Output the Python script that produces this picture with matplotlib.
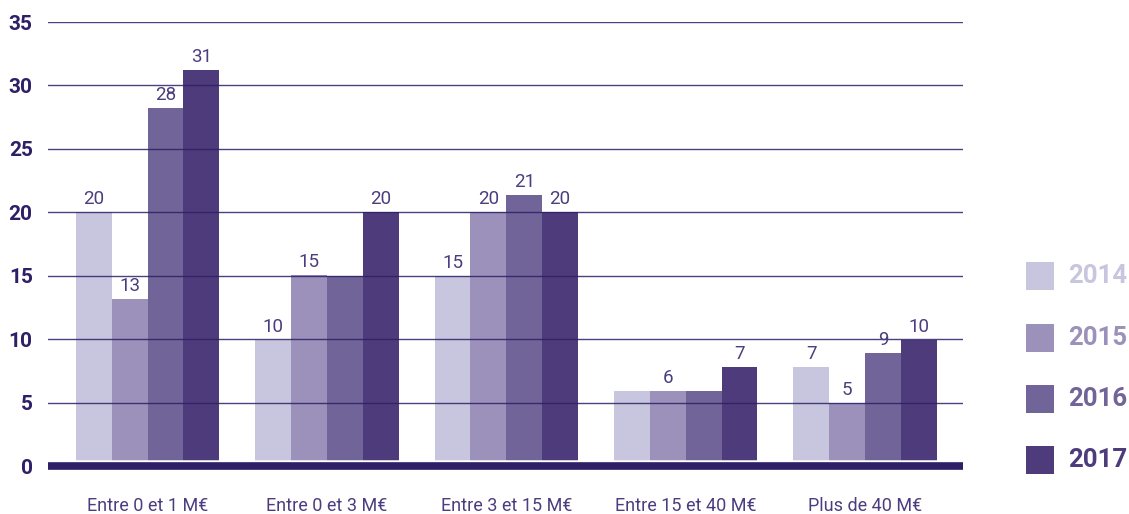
import matplotlib

matplotlib.use("Agg")
import numpy as np
from matplotlib import pyplot as plt
from matplotlib import patches

categories = ["Entre 0 et 1 M€", "Entre 0 et 3 M€", "Entre 3 et 15 M€", "Entre 15 et 40 M€", "Plus de 40 M€"]
years = ["2014", "2015", "2016", "2017"]
values = {
    "2014": [20.0, 9.95, 15.0, 5.9, 7.8],
    "2015": [13.2, 15.05, 20.0, 5.9, 4.95],
    "2016": [28.2, 15.0, 21.35, 5.9, 8.9],
    "2017": [31.2, 20.0, 20.0, 7.8, 9.95],
}
shown_labels = {
    "2014": ["20", "10", "15", "", "7"],
    "2015": ["13", "15", "20", "6", "5"],
    "2016": ["28", "", "21", "", "9"],
    "2017": ["31", "20", "20", "7", "10"],
}
y_ticks = [0, 5, 10, 15, 20, 25, 30, 35]

COLORS = ["#c8c5de", "#9b91ba", "#716498", "#4e3b7b"]
DARK = "#2e1f66"
TEXT = "#4b3d7e"
FONT = "Roboto"

fig = plt.figure(figsize=(11.29, 5.14), dpi=100, facecolor="white")
ax = fig.add_axes([48 / 1129, 1 - 466 / 514, 915 / 1129, 444 / 514])

x = np.arange(len(categories))
bar_w = 0.2
for i, year in enumerate(years):
    pos = x + (i - 1.5) * bar_w
    ax.bar(pos, values[year], width=bar_w, color=COLORS[i], zorder=2, linewidth=0)
    for px, v, lab in zip(pos, values[year], shown_labels[year]):
        if lab:
            ax.text(px, v + 0.3, lab, ha="center", va="bottom", fontsize=13.5,
                    color=TEXT, family=FONT, zorder=4)

for t in y_ticks[1:]:
    ax.axhline(t, color=DARK, linewidth=1.0, alpha=0.85, zorder=3)

# thick baseline with a small white gap above
ax.axhline(0, color="white", linewidth=9, zorder=3, clip_on=False)
ax.axhline(0, color=DARK, linewidth=5.5, zorder=4, clip_on=False, solid_capstyle="butt")

ax.set_xlim(-0.555, 4.546)
ax.set_ylim(0, 35)
ax.set_yticks(y_ticks)
ax.set_yticklabels([str(t) for t in y_ticks], fontsize=15, fontweight="bold",
                   color=DARK, family=FONT)
ax.set_xticks(x)
ax.set_xticklabels(categories, fontsize=13, color=TEXT, family=FONT)
ax.tick_params(axis="y", length=0, pad=11)
ax.tick_params(axis="x", length=0, pad=22)
for s in ax.spines.values():
    s.set_visible(False)

# legend on the right
legend_y = [276, 338, 399, 460]
for i, year in enumerate(years):
    yc = legend_y[i]
    fig.patches.append(patches.Rectangle(
        (1026 / 1129, 1 - (yc + 14) / 514), 28 / 1129, 28 / 514,
        transform=fig.transFigure, facecolor=COLORS[i], edgecolor="none"))
    fig.text(1068 / 1129, 1 - yc / 514, year, ha="left", va="center",
             fontsize=18.5, fontweight="bold", color=COLORS[i], family=FONT)

fig.savefig("out.png", dpi=100, facecolor="white")
